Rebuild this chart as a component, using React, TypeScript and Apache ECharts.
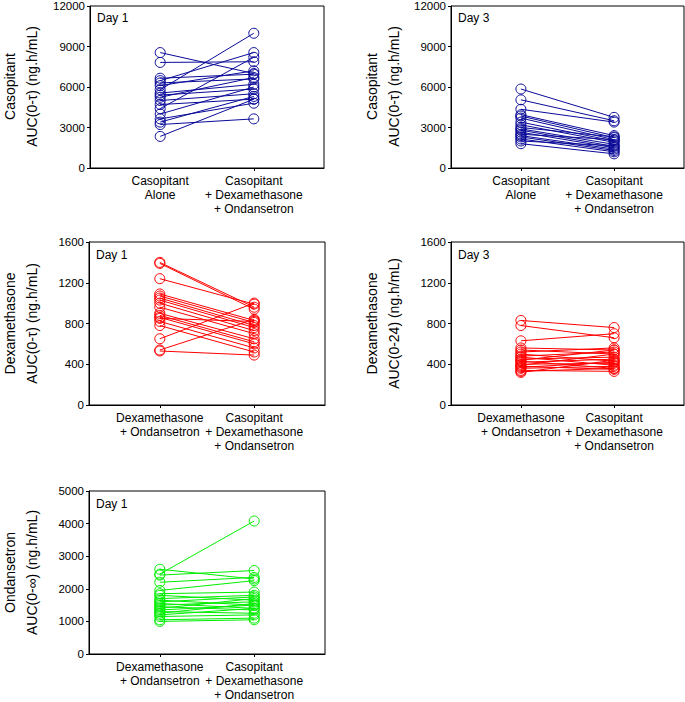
import React, { useEffect, useRef } from "react";
import * as echarts from "echarts";

// Casopitant Day 1
const casD1Alone = [8550, 7820, 6650, 6470, 6300, 6100, 5800, 5550, 5400, 5240, 5000, 4700, 4400, 4000, 3640, 3400, 3220, 2340];
const casD1Combo = [7000, 7870, 6950, 8550, 6600, 7200, 9980, 6200, 5850, 6700, 5500, 5100, 8200, 6000, 4800, 5300, 3640, 5100];
// Casopitant Day 3
const casD3Alone = [5850, 5050, 4350, 3950, 3850, 3700, 3400, 3200, 3000, 2900, 2800, 2650, 2500, 2400, 2300, 2150, 2000, 1800];
const casD3Combo = [3750, 3500, 3400, 2400, 2250, 2100, 2000, 1900, 2300, 1750, 1600, 1500, 2100, 1400, 1300, 1200, 1650, 1050];
// Dexamethasone Day 1
const dexD1DexOnd = [1400, 1390, 1240, 1090, 1070, 1050, 1030, 1000, 960, 900, 880, 860, 850, 820, 780, 650, 540, 530];
const dexD1Combo = [960, 940, 990, 830, 810, 780, 760, 730, 700, 650, 620, 600, 820, 560, 520, 1000, 840, 490];
// Dexamethasone Day 3
const dexD3DexOnd = [830, 780, 630, 560, 540, 520, 500, 480, 470, 450, 440, 430, 420, 400, 390, 380, 370, 360, 340, 330, 320];
const dexD3Combo = [760, 660, 700, 540, 500, 560, 430, 520, 390, 470, 540, 360, 450, 410, 500, 350, 420, 380, 330, 360, 440];
// Ondansetron Day 1
const ondD1DexOnd = [2450, 2600, 2420, 2200, 1950, 1850, 1800, 1700, 1650, 1600, 1550, 1500, 1450, 1400, 1350, 1300, 1250, 1200, 1150, 1050, 1000];
const ondD1Combo = [4080, 2300, 2560, 2350, 2250, 1900, 1650, 1800, 1500, 1750, 1400, 1600, 1350, 1700, 1500, 1250, 1550, 1400, 1200, 1100, 1050];

const yTicks1 = { max: 12000, interval: 3000 };
const yTicks2 = { max: 1600, interval: 400 };
const yTicks3 = { max: 5000, interval: 1000 };

const catsCas = ["Casopitant\nAlone", "Casopitant\n+ Dexamethasone\n+ Ondansetron"];
const catsDex = ["Dexamethasone\n+ Ondansetron", "Casopitant\n+ Dexamethasone\n+ Ondansetron"];

const NAVY = "#0a0a99";
const RED = "#ff0000";
const GREEN = "#00ee00";
const FONT = "Liberation Sans, Arial, sans-serif";

export default function App() {
  const ref = useRef<HTMLDivElement>(null);
  useEffect(() => {
    const chart = echarts.init(ref.current!, null, { renderer: "svg" });
    const panels = [
      { left: 90, top: 5, width: 234, left0: casD1Alone, right0: casD1Combo, color: NAVY, y: yTicks1, cats: catsCas, day: "Day 1", t1: "Casopitant", t2: "AUC(0-\u03c4) (ng.h/mL)", tx: 21 },
      { left: 451, top: 5, width: 233, left0: casD3Alone, right0: casD3Combo, color: NAVY, y: yTicks1, cats: catsCas, day: "Day 3", t1: "Casopitant", t2: "AUC(0-\u03c4) (ng.h/mL)", tx: 383 },
      { left: 89, top: 242, width: 236, left0: dexD1DexOnd, right0: dexD1Combo, color: RED, y: yTicks2, cats: catsDex, day: "Day 1", t1: "Dexamethasone", t2: "AUC(0-\u03c4) (ng.h/mL)", tx: 21 },
      { left: 451, top: 242, width: 233, left0: dexD3DexOnd, right0: dexD3Combo, color: RED, y: yTicks2, cats: catsDex, day: "Day 3", t1: "Dexamethasone", t2: "AUC(0-24) (ng.h/mL)", tx: 383 },
      { left: 89, top: 491, width: 236, left0: ondD1DexOnd, right0: ondD1Combo, color: GREEN, y: yTicks3, cats: catsDex, day: "Day 1", t1: "Ondansetron", t2: "AUC(0-\u221e) (ng.h/mL)", tx: 21 },
    ];
    const H = 163;
    const grid: any[] = [];
    const xAxis: any[] = [];
    const yAxis: any[] = [];
    const series: any[] = [];
    const graphic: any[] = [];
    panels.forEach((p, i) => {
      grid.push({ left: p.left, top: p.top, width: p.width, height: H, show: true, borderColor: "#000", borderWidth: 1, backgroundColor: "transparent" });
      xAxis.push({
        type: "value", gridIndex: i, min: 0, max: 10,
        splitLine: { show: false },
        axisLine: { show: true, lineStyle: { color: "#000", width: 1 } },
        axisTick: { show: true, customValues: [3, 7], length: 3, inside: false, lineStyle: { color: "#000" } },
        axisLabel: {
          customValues: [3, 7], margin: 6, fontSize: 12, lineHeight: 14, color: "#000", fontFamily: FONT,
          formatter: (v: number) => (v === 3 ? p.cats[0] : v === 7 ? p.cats[1] : ""),
        },
      });
      yAxis.push({
        type: "value", gridIndex: i, min: 0, max: p.y.max, interval: p.y.interval,
        splitLine: { show: false },
        axisLine: { show: true, lineStyle: { color: "#000", width: 1 } },
        axisTick: { show: true, length: 3, lineStyle: { color: "#000" } },
        axisLabel: { fontSize: 11.5, color: "#000", margin: 5, fontFamily: FONT, formatter: (v: number) => String(v) },
      });
      p.left0.forEach((lv, j) => {
        series.push({
          type: "line", xAxisIndex: i, yAxisIndex: i, silent: true,
          data: [[3, lv], [7, p.right0[j]]],
          symbol: "circle", symbolSize: 10,
          lineStyle: { color: p.color, width: 1 },
          itemStyle: { color: "rgba(0,0,0,0)", borderColor: p.color, borderWidth: 1 },
          z: 2,
        });
      });
      graphic.push({
        type: "text", x: p.left + 7, y: p.top + 13,
        style: { text: p.day, fontSize: 12, fill: "#000", fontFamily: FONT, verticalAlign: "middle", align: "left" },
      });
      graphic.push({
        type: "text", x: p.tx, y: p.top + H / 2, rotation: Math.PI / 2,
        style: { text: p.t1 + "\n" + p.t2, fontSize: 14, lineHeight: 22, fill: "#000", fontFamily: FONT, align: "center", verticalAlign: "middle" },
      });
    });
    chart.setOption({ animation: false, grid, xAxis, yAxis, series, graphic });
    return () => chart.dispose();
  }, []);
  return <div ref={ref} style={{ position: "absolute", left: 0, top: 0, width: 685, height: 702, background: "#fff" }} />;
}
